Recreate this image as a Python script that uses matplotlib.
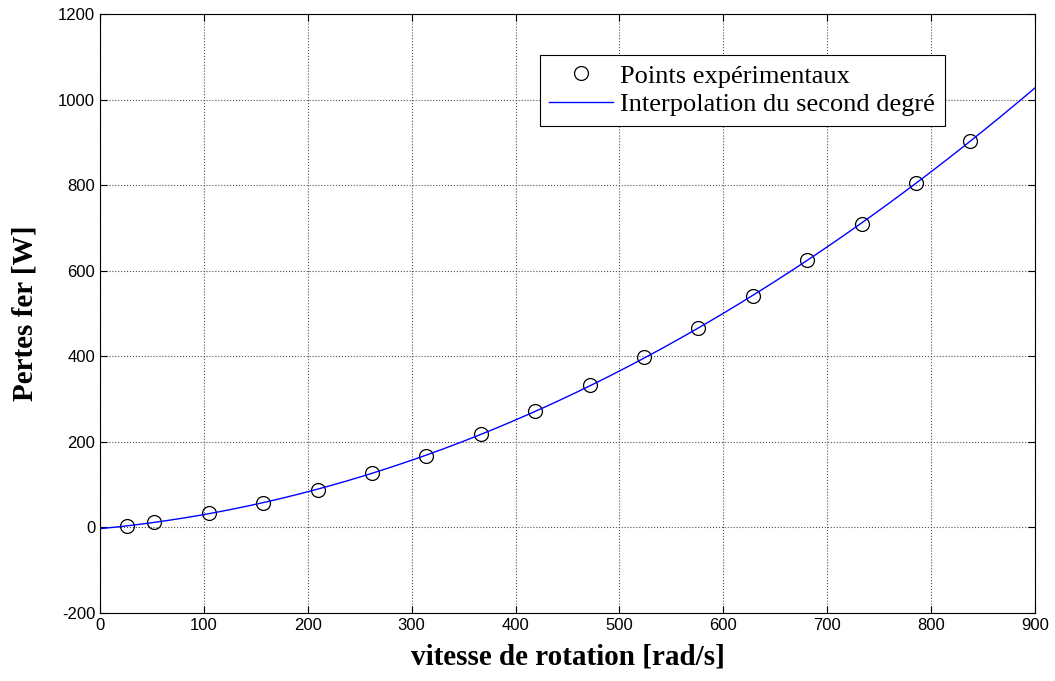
import numpy as np  # numerical operations
import matplotlib
matplotlib.use('Agg')
import matplotlib.pyplot as plt  # plotting

plt.rcParams['axes.unicode_minus'] = False

# Measured data: rotation speed [rad/s] and iron losses [W]
vitesse = [26.18, 52.36, 104.72, 157.08, 209.44, 261.8, 314.16, 366.52, 418.88,
           471.24, 523.6, 575.96, 628.32, 680.68, 733.04, 785.4, 837.76]
pertes = [4, 12, 33, 58, 87, 127, 168, 218, 271, 332, 398, 465, 541, 625, 710, 805, 903]

x_ticks = [0, 100, 200, 300, 400, 500, 600, 700, 800, 900]
y_ticks = [-200, 0, 200, 400, 600, 800, 1000, 1200]

# second degree fit, as in the original figure
coef = np.polyfit(vitesse, pertes, 2)
x_fit = np.linspace(0, 900, 400)
y_fit = np.polyval(coef, x_fit)

fig = plt.figure(figsize=(10.55, 6.81), dpi=100)
ax = fig.add_axes([100 / 1055, 68 / 681, 935 / 1055, 599 / 681])

ax.plot(vitesse, pertes, 'o', markersize=10, markerfacecolor='none',
        markeredgecolor='black', markeredgewidth=0.9, label='Points expérimentaux')
ax.plot(x_fit, y_fit, color='#0000ff', linewidth=1.0, label='Interpolation du second degré')

ax.set_xlim(0, 900)
ax.set_ylim(-200, 1200)
ax.set_xticks(x_ticks)
ax.set_yticks(y_ticks)

# MATLAB-like look: dotted grid, ticks inside on all sides
ax.grid(True, color='#505050', linestyle=':', linewidth=0.8)
ax.tick_params(direction='in', top=True, right=True, length=5, width=0.8,
               labelsize=12)
for lbl in ax.get_xticklabels() + ax.get_yticklabels():
    lbl.set_family('Liberation Sans')
for sp in ax.spines.values():
    sp.set_linewidth(0.8)

ax.set_xlabel('vitesse de rotation [rad/s]', family='Liberation Serif',
              fontweight='bold', fontsize=21, labelpad=8)
ax.set_ylabel('Pertes fer [W]', family='Liberation Serif',
              fontweight='bold', fontsize=21, labelpad=14)

leg = ax.legend(loc='upper left', bbox_to_anchor=(0.4706, 0.9316),
                prop={'family': 'Liberation Serif', 'size': 19},
                frameon=True, fancybox=False, framealpha=1, edgecolor='black',
                handlelength=2.4, handletextpad=0.3, borderpad=0.35,
                labelspacing=0.2, borderaxespad=0)
leg.get_frame().set_linewidth(0.8)

fig.savefig('out.png', dpi=100)
